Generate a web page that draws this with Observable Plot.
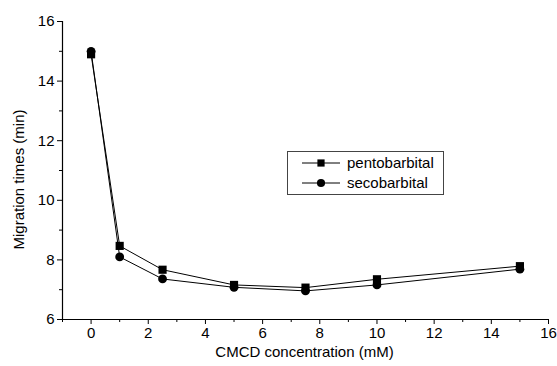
<!DOCTYPE html>
<html><head><meta charset="utf-8">
<script src="https://cdn.jsdelivr.net/npm/d3@7"></script>
<script src="https://cdn.jsdelivr.net/npm/@observablehq/plot@0.6"></script>
<style>
body{margin:0;background:#fff;font-family:"Liberation Sans",Arial,sans-serif;}
#wrap{position:relative;width:557px;height:366px;}
#legend{position:absolute;left:287px;top:151px;width:157px;height:44px;border:1px solid #444;background:#fff;font-size:15px;color:#000;box-sizing:border-box;}
.sym{position:absolute;left:14px;}
.lab{position:absolute;left:59px;line-height:16px;}
</style></head>
<body><div id="wrap"></div>
<script>
const concentration = [0, 1, 2.5, 5, 7.5, 10, 15];
const pentobarbital = [14.9, 8.47, 7.67, 7.16, 7.07, 7.35, 7.79];
const secobarbital = [15.0, 8.1, 7.36, 7.08, 6.96, 7.16, 7.69];
const seriesNames = ["pentobarbital", "secobarbital"];
const xMajor = [0, 2, 4, 6, 8, 10, 12, 14, 16];
const xMinor = [-1, 1, 3, 5, 7, 9, 11, 13, 15];
const yMajor = [6, 8, 10, 12, 14, 16];
const yMinor = [7, 9, 11, 13, 15];

const pento = concentration.map((c, i) => ({x: c, y: pentobarbital[i]}));
const seco = concentration.map((c, i) => ({x: c, y: secobarbital[i]}));

const chart = Plot.plot({
  width: 557, height: 366,
  marginLeft: 62, marginRight: 9, marginTop: 21, marginBottom: 47,
  style: {fontFamily: '"Liberation Sans", Arial, sans-serif', fontSize: "15px", color: "#000", background: "#fff"},
  x: {domain: [-1, 16]},
  y: {domain: [6, 16]},
  marks: [
    Plot.ruleX([-1], {stroke: "#000", strokeWidth: 1.2}),
    Plot.ruleY([6], {stroke: "#000", strokeWidth: 1.2}),
    Plot.axisX({ticks: xMajor, tickSize: 5, tickPadding: 3, label: null, stroke: "#000", fontSize: 15}),
    Plot.axisX({ticks: xMinor, tickSize: 3, text: null, label: null, stroke: "#000"}),
    Plot.axisY({ticks: yMajor, tickSize: 5, tickPadding: 3, label: null, stroke: "#000", fontSize: 15}),
    Plot.axisY({ticks: yMinor, tickSize: 3, text: null, label: null, stroke: "#000"}),
    Plot.line(pento, {x: "x", y: "y", stroke: "#000", strokeWidth: 1}),
    Plot.line(seco, {x: "x", y: "y", stroke: "#000", strokeWidth: 1}),
    Plot.dot(pento, {x: "x", y: "y", symbol: "square", r: 4.6, fill: "#000", stroke: "none"}),
    Plot.dot(seco, {x: "x", y: "y", symbol: "circle", r: 4.4, fill: "#000", stroke: "none"}),
    Plot.text(["CMCD concentration (mM)"], {frameAnchor: "bottom", dy: 37, dx: -1, fontSize: 15, fill: "#000"}),
    Plot.text(["Migration times (min)"], {frameAnchor: "left", textAnchor: "middle", dx: -43, dy: 9, rotate: -90, fontSize: 15, fill: "#000"})
  ]
});
const wrap = document.getElementById("wrap");
wrap.appendChild(chart);

const legend = document.createElement("div");
legend.id = "legend";
const syms = ["square", "circle"];
const ns = "http://www.w3.org/2000/svg";
seriesNames.forEach((name, i) => {
  const cy = 11 + i * 20;
  const s = document.createElementNS(ns, "svg");
  s.setAttribute("class", "sym");
  s.setAttribute("width", 38); s.setAttribute("height", 12);
  s.style.top = (cy - 6) + "px";
  const l = document.createElementNS(ns, "line");
  l.setAttribute("x1", 0); l.setAttribute("x2", 38); l.setAttribute("y1", 6); l.setAttribute("y2", 6);
  l.setAttribute("stroke", "#000"); l.setAttribute("stroke-width", 1);
  s.appendChild(l);
  const p = document.createElementNS(ns, "path");
  p.setAttribute("d", d3.symbol(syms[i] === "square" ? d3.symbolSquare : d3.symbolCircle, 52)());
  p.setAttribute("transform", "translate(19,6)");
  s.appendChild(p);
  legend.appendChild(s);
  const t = document.createElement("div");
  t.className = "lab";
  t.style.top = (cy - 8) + "px";
  t.textContent = name;
  legend.appendChild(t);
});
wrap.appendChild(legend);
</script></body></html>
